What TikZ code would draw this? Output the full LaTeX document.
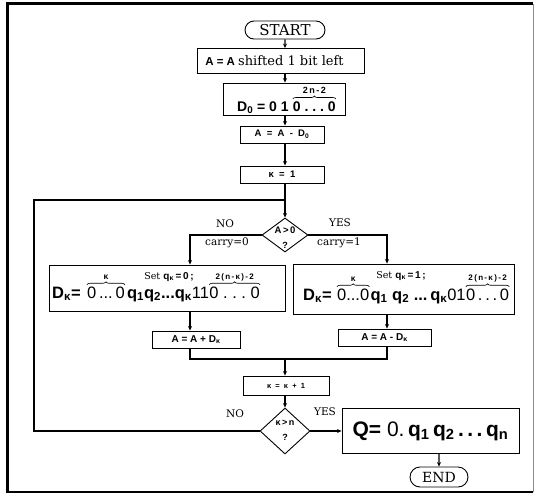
\documentclass[tikz,border=0pt]{standalone}
\usepackage{fontspec}
\setmainfont{DejaVu Serif}
\newfontfamily\hv{Liberation Sans}
\usetikzlibrary{shapes.geometric,shapes.misc,arrows.meta,decorations.pathreplacing}
\newcommand{\hvb}{\hv\bfseries}
\newcommand{\hvr}{\hv\mdseries}
\newcommand{\mysub}[1]{\textsubscript{#1}}
\begin{document}
\begin{tikzpicture}[x=1pt,y=-1pt,
  box/.style={draw,line width=0.9pt,inner sep=0pt},
  term/.style={draw,line width=0.9pt,rounded rectangle,inner sep=0pt},
  dia/.style={draw,line width=0.9pt,diamond,inner sep=0pt},
  lbl/.style={font=\fontsize{10.5}{10.5}\selectfont,inner sep=0pt},
  txt/.style={inner sep=0pt},
  big/.style={txt,anchor=base west,font=\hvb\fontsize{16.5}{18}\selectfont},
  bigr/.style={txt,anchor=base west,font=\hvr\fontsize{16.5}{18}\selectfont},
  brc/.style={decorate,decoration={brace,amplitude=3pt},line width=0.6pt},
  blab/.style={txt,anchor=base,font=\hvb\fontsize{8}{8}\selectfont},
  arr/.style={line width=1.1pt,-{Stealth[length=4.5pt,width=4pt]}},
  ln/.style={line width=1.1pt}]
\useasboundingbox (0,0) rectangle (535,496);
% frame
\draw[line width=2.6pt] (533,3.5) -- (7.5,3.5) -- (7.5,492) -- (533,492);
\draw[line width=0.5pt,black!45] (533,3.5) -- (533,492);
% axis coordinates
\coordinate (ax) at (285,0);
\coordinate (lx) at (190,0);
\coordinate (rx) at (387,0);
\coordinate (jy) at (0,359);
\coordinate (loopc) at (34,200);
\coordinate (loopj) at (285,200);
% nodes
\node[term,minimum width=80pt,minimum height=18pt,font=\fontsize{15}{15}\selectfont] (start) at (285,30) {START};
\node[box,minimum width=167pt,minimum height=25pt] (shift) at (280.5,61)
  {{\hvb\fontsize{11.5}{11.5}\selectfont A\;=\;A}\ {\fontsize{13}{13}\selectfont shifted 1 bit left}\hspace*{12pt}};
% D0 box
\node[box,minimum width=122pt,minimum height=32pt] (d0) at (284,99) {};
\node[txt,anchor=base west,font=\hvb\fontsize{14}{15}\selectfont] (d0a) at (237,111) {D\mysub{0}\;=\;0\;1\;};
\node[txt,anchor=base west,font=\hvb\fontsize{14}{15}\selectfont] (d0b) at (d0a.base east) {0\;.\;.\;.\;0};
\draw[brc] ([yshift=2pt]d0b.north west) -- ([yshift=2pt]d0b.north east);
\node[blab,font=\hvb\fontsize{9}{9}\selectfont] (d0l) at ([yshift=7.5pt]d0b.north) {2\,n\,-\,2};
\node[box,minimum width=84pt,minimum height=17pt,font=\hvb\fontsize{9.5}{9.5}\selectfont] (a1) at (282,134.5) {A\ \ =\ \ A\ \ -\ \ D\mysub{0}};
\node[box,minimum width=84pt,minimum height=17pt,font=\hvb\fontsize{9.5}{9.5}\selectfont] (k1) at (282,174.5) {κ\ \ =\ \ 1};
\node[dia,minimum width=46pt,minimum height=34pt] (dia1) at (285,235) {};
\node[txt,font=\hvb\fontsize{9.5}{9.5}\selectfont] (dia1t) at (285,230) {A\,>\,0};
\node[txt,font=\hvb\fontsize{9}{9}\selectfont] (dia1q) at (285,245) {?};
% left box
\node[box,minimum width=236pt,minimum height=46pt] (lbox) at (167,288) {};
\node[txt,anchor=base] (lt1) at (169,279)
  {{\fontsize{9.5}{9.5}\selectfont Set}\ {\hvb\fontsize{10}{10}\selectfont q\mysub{κ}\,=\,0\,;}};
\node[big] (l2a) at (52,298) {D\mysub{κ}=};
\node[bigr] (l2b) at ([xshift=6pt]l2a.base east) {0\,...\,0};
\node[big] (l2c) at ([xshift=2pt]l2b.base east) {q\mysub{1}q\mysub{2}...q\mysub{κ}{\hvr 11}};
\node[bigr] (l2d) at (l2c.base east) {0\ .\ .\ .\ 0};
\draw[brc] ([yshift=1.5pt]l2b.north west) -- ([yshift=1.5pt]l2b.north east);
\draw[brc] ([yshift=1.5pt]l2d.north west) -- ([yshift=1.5pt]l2d.north east);
\node[blab,font=\hvb\fontsize{8.5}{8.5}\selectfont] (l2bl) at ([yshift=6.5pt]l2b.north) {κ};
\node[blab] (l2dl) at ([yshift=6.5pt]l2d.north) {2\,(\,n\,-\,κ\,)\,-\,2};
% right box
\node[box,minimum width=221pt,minimum height=50pt] (rbox) at (403.5,289) {};
\node[txt,anchor=base] (rt1) at (401,278)
  {{\fontsize{9.5}{9.5}\selectfont Set}\ {\hvb\fontsize{10}{10}\selectfont q\mysub{κ}\,=\,1\,;}};
\node[big] (r2a) at (303,300) {D\mysub{κ}=};
\node[bigr] (r2b) at ([xshift=5pt]r2a.base east) {0...0};
\node[big] (r2c) at ([xshift=1pt]r2b.base east) {q\mysub{1} q\mysub{2} ...\,q\mysub{κ}{\hvr 01}};
\node[bigr] (r2d) at (r2c.base east) {0\,.\,.\,.\,0};
\draw[brc] ([yshift=1.5pt]r2b.north west) -- ([yshift=1.5pt]r2b.north east);
\draw[brc] ([yshift=1.5pt]r2d.north west) -- ([yshift=1.5pt]r2d.north east);
\node[blab,font=\hvb\fontsize{8.5}{8.5}\selectfont] (r2bl) at ([yshift=6.5pt]r2b.north) {κ};
\node[blab] (r2dl) at ([yshift=8pt]r2d.north) {2\,(\,n\,-\,κ\,)\,-\,2};
\node[box,minimum width=88pt,minimum height=17pt,font=\hvb\fontsize{10}{10}\selectfont] (apd) at (196,339.5) {A\ =\ A\ +\ D\mysub{κ}};
\node[box,minimum width=93pt,minimum height=17pt,font=\hvb\fontsize{10}{10}\selectfont] (amd) at (384.5,337.5) {A\ =\ A\ -\ D\mysub{κ}};
\node[box,minimum width=86pt,minimum height=19pt,font=\hvb\fontsize{7.5}{7.5}\selectfont] (kp1) at (286,385.5) {κ\ \ =\ \ κ\ \ +\ \ 1};
\node[dia,minimum width=50pt,minimum height=46pt] (dia2) at (285,431) {};
\node[txt,font=\hvb\fontsize{9}{9}\selectfont] (dia2t) at (285,423) {κ\,>\,n};
\node[txt,font=\hvb\fontsize{9}{9}\selectfont] (dia2q) at (285,437) {?};
\node[box,minimum width=177pt,minimum height=45pt] (q) at (430.5,431)
  {\hvb\fontsize{21}{23}\selectfont Q= {\hvr 0.}\,q\mysub{1}\,q\mysub{2}\,.\,.\,.\,q\mysub{n}};
\node[term,minimum width=58pt,minimum height=20pt,font=\fontsize{14}{14}\selectfont] (endn) at (439,477) {END};
% labels
\node[lbl] (no1) at (225,224) {NO};
\node[lbl] (c0) at (227,243) {carry=0};
\node[lbl] (yes1) at (340,223) {YES};
\node[lbl] (c1) at (339,243) {carry=1};
\node[lbl] (no2) at (235,414) {NO};
\node[lbl] (yes2) at (325,412) {YES};
% connectors
\draw[arr] (start) -- (ax |- shift.north);
\draw[arr] (ax |- shift.south) -- (ax |- d0.north);
\draw[arr] (ax |- d0.south) -- (ax |- a1.north);
\draw[arr] (ax |- a1.south) -- (ax |- k1.north);
\draw[arr] (ax |- k1.south) -- (dia1);
\draw[ln] (dia2.west) -| (loopc) -- (loopj);
\draw[arr] (dia1.west) -| (lx |- lbox.north);
\draw[arr] (dia1.east) -| (rx |- rbox.north);
\draw[arr] (lx |- lbox.south) -- (lx |- apd.north);
\draw[arr] (rx |- rbox.south) -- (rx |- amd.north);
\draw[ln] (lx |- apd.south) |- (rx |- jy) -- (rx |- amd.south);
\draw[arr] (ax |- jy) -- (ax |- kp1.north);
\draw[arr] (ax |- kp1.south) -- (dia2);
\draw[arr,line width=1.8pt] (dia2.east) -- (q.west);
\draw[arr] (q.south -| endn) -- (endn);
\end{tikzpicture}
\end{document}
